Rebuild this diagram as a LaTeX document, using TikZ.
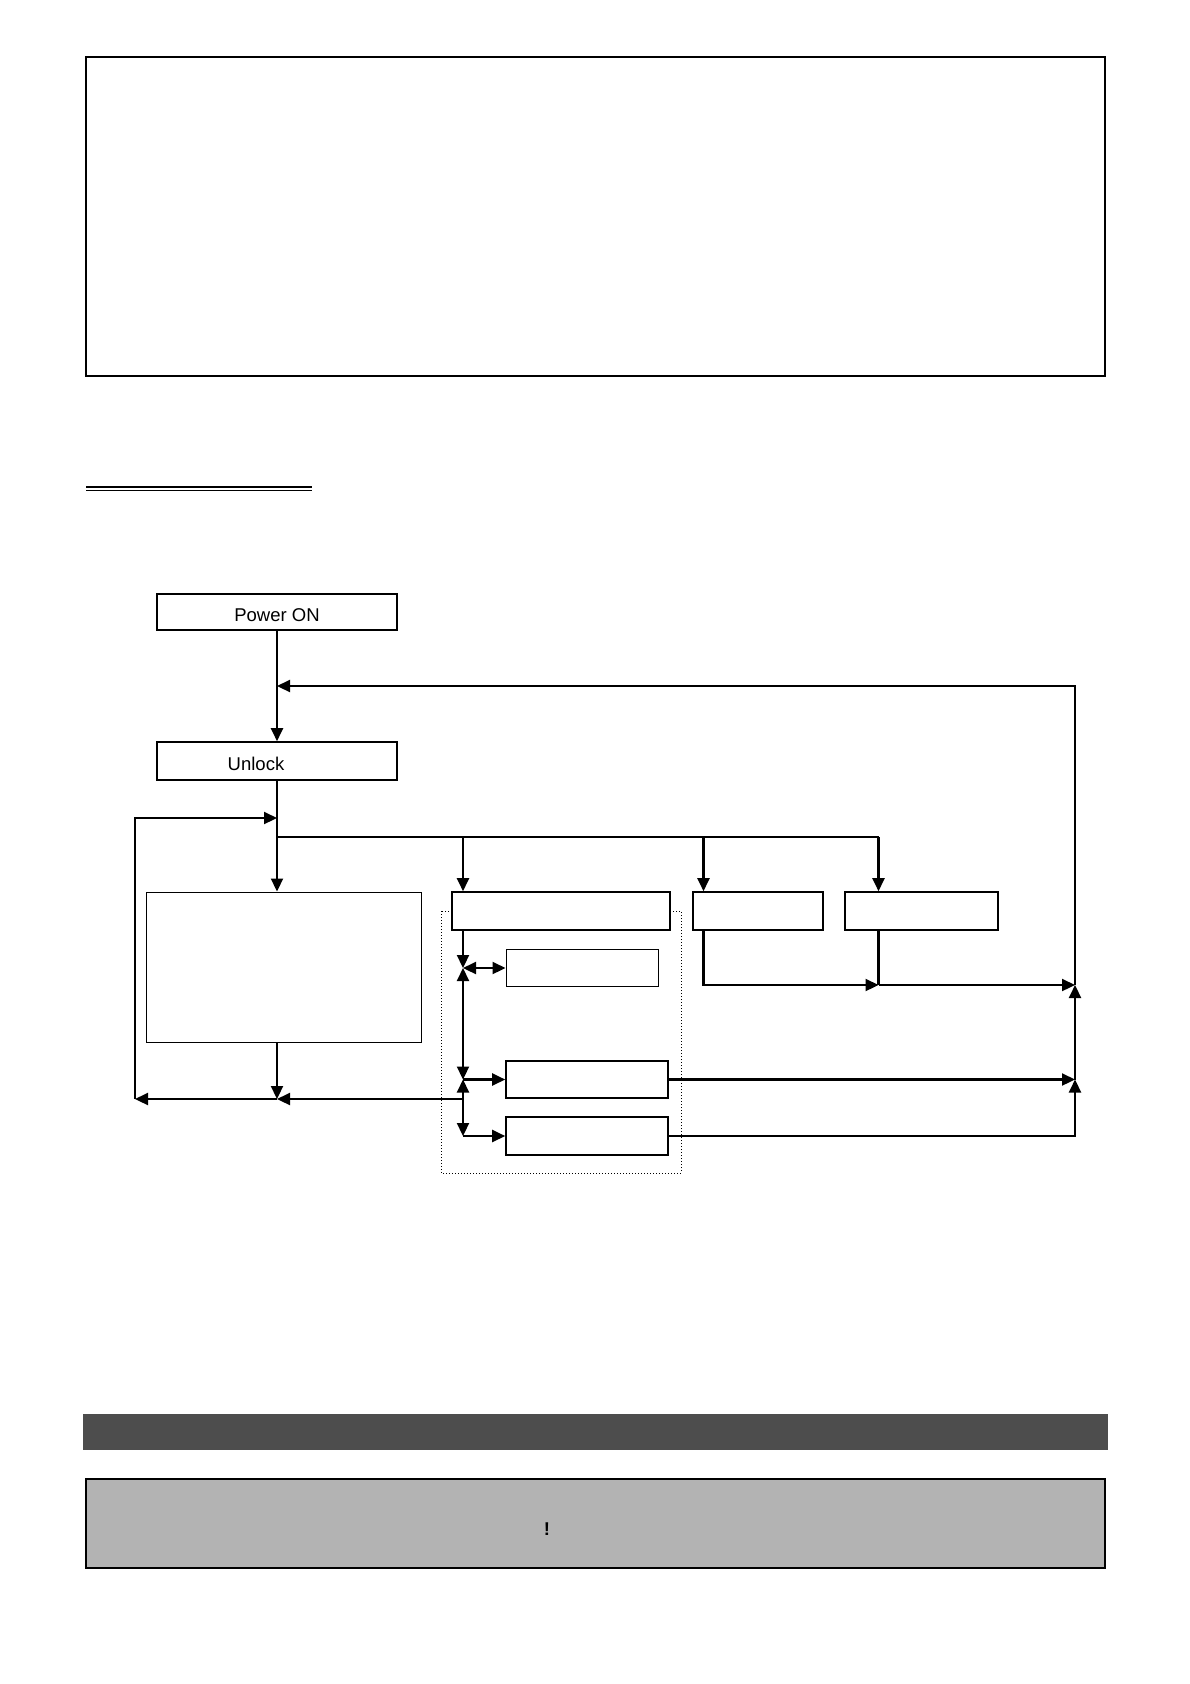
\documentclass[tikz,border=0pt]{standalone}
\usepackage{fontspec}
\setmainfont{Liberation Sans}
\usetikzlibrary{arrows.meta}
\definecolor{barc}{HTML}{4D4D4D}
\definecolor{notec}{HTML}{B3B3B3}
\tikzset{
  stepbox/.style={draw,line width=1.6pt,fill=white,inner sep=0pt},
  thinbox/.style={draw,line width=1pt,fill=white,inner sep=0pt},
  flow/.style={line width=2.2pt},
}
\begin{document}
\begin{tikzpicture}[x=1pt,y=-1pt,every node/.style={font=\fontsize{18.5}{22}\selectfont},>={Triangle[length=13pt,width=12pt]}]
\useasboundingbox (0,0) rectangle (1190,1684);

% top frame and heading rule
\draw[line width=1.3pt] (86,57) rectangle (1105,376);
\draw[double,double distance=2pt,line width=1.2pt] (86,488.5) -- (312,488.5);

% flow chart boxes
\node[stepbox,minimum width=240pt,minimum height=36pt,label={[yshift=-3pt]center:Power ON}] (pwr) at (277,612) {};
\node[stepbox,minimum width=240pt,minimum height=38pt,label={[xshift=-21pt,yshift=-3pt]center:Unlock}] (unlk) at (277,761) {};
\node[thinbox,minimum width=275pt,minimum height=150pt] (idle) at (283.5,967) {};
\draw[line width=1pt,dotted] (441,911) rectangle (681,1173);
\node[stepbox,minimum width=218pt,minimum height=38pt] (setup) at (561,911) {};
\node[stepbox,minimum width=130pt,minimum height=38pt] (opta) at (758,911) {};
\node[stepbox,minimum width=153pt,minimum height=38pt] (optb) at (921.5,911) {};
\node[thinbox,minimum width=152pt,minimum height=37pt] (seta) at (582,968) {};
\node[stepbox,minimum width=162pt,minimum height=37pt] (setb) at (587,1079.5) {};
\node[stepbox,minimum width=162pt,minimum height=38pt] (setc) at (587,1136) {};

% junctions
\coordinate (fb) at (277,686);
\coordinate (lt) at (277,818);
\coordinate (bus) at (277,837);
\coordinate (cdrop) at (703.5,837);
\coordinate (ddrop) at (878.5,837);
\coordinate (ja) at (463,968);
\coordinate (jb) at (463,1079.5);
\coordinate (jr) at (463,1099);
\coordinate (jc) at (463,1136);
\coordinate (ret) at (277,1099);
\coordinate (lp) at (135,1099);
\coordinate (mg) at (878.5,985);
\coordinate (rt) at (1075,985);
\coordinate (rb) at (1075,1079.5);

% main line
\draw[flow,->] (pwr) -- (unlk);
\draw[flow,->] (rt) |- (fb);
\draw[flow,->] (unlk) -- (idle.north -| unlk);
\draw[flow] (bus) -- (ddrop);
\draw[flow,->] (ja |- bus) -- (ja |- setup.north);
\draw[flow,->] (cdrop) -- (cdrop |- opta.north);
\draw[flow,->] (ddrop) -- (ddrop |- optb.north);

% right branches
\draw[flow,->] (cdrop |- opta.south) |- (mg);
\draw[flow] (ddrop |- optb.south) -- (mg);
\draw[flow,->] (mg) -- (rt);
\draw[flow,->] (setb.east) -- (rb);
\draw[flow,->] (setc.east) -| (rb);
\draw[flow,->] (rb) -- (rt);

% settings column
\draw[flow,->] (ja |- setup.south) -- (ja);
\draw[flow,<->] (ja) -- (seta.west);
\draw[flow,<->] (ja) -- (jb);
\draw[flow,->] (jr) -- (jb);
\draw[flow,->] (jr) -- (jc);
\draw[flow,->] (jb) -- (setb.west);
\draw[flow,->] (jc) -- (setc.west);
\draw[flow,->] (jr) -- (ret);

% return loop
\draw[flow,->] (idle.south -| ret) -- (ret);
\draw[flow,->] (ret) -- (lp);
\draw[flow,->] (lp) |- (lt);

% bottom bars
\fill[barc] (83,1414) rectangle (1108,1450);
\draw[line width=1.3pt,fill=notec] (86,1479) rectangle (1105,1568);
\node[font=\fontsize{18.5}{22}\selectfont\bfseries] (warn) at (547,1529) {!};
\end{tikzpicture}
\end{document}
